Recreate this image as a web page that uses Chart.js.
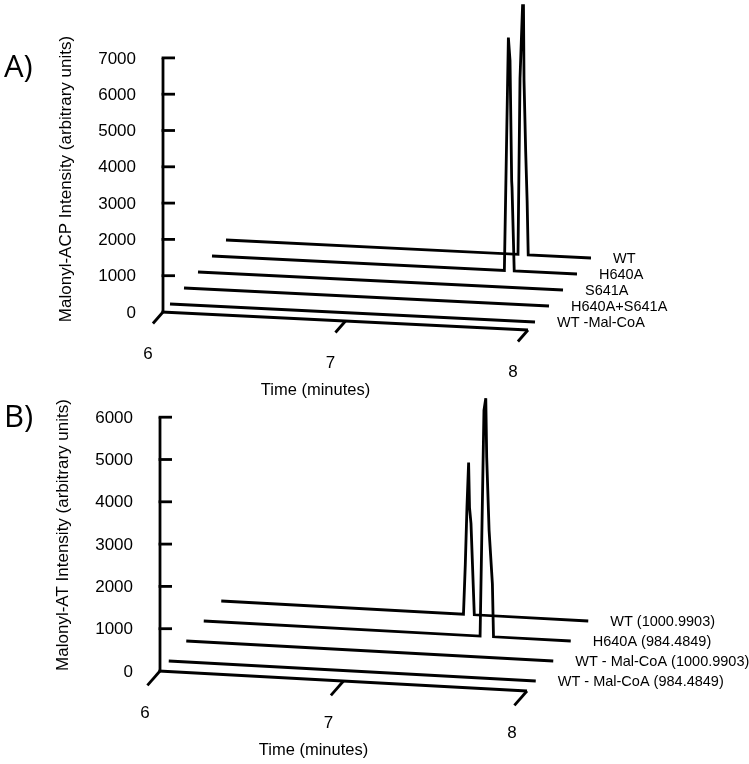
<!DOCTYPE html>
<html lang="en">
<head>
<meta charset="UTF-8">
<title>Malonyl-ACP / Malonyl-AT traces</title>
<script src="https://cdn.jsdelivr.net/npm/chart.js"></script>
<style>
  body { margin: 0; background: #fff; }
  .wrap { position: relative; width: 749px; height: 764px; overflow: hidden; }
  canvas { position: absolute; left: 0; }
  #chartA { top: 0; }
  #chartB { top: 380px; }
</style>
</head>
<body>
<div class="wrap">
  <canvas id="chartA" width="749" height="400"></canvas>
  <canvas id="chartB" width="749" height="384"></canvas>
</div>
<script>
// ---------- Panel A (traces listed front to back) ----------
const namesA = ['WT -Mal-CoA', 'H640A+S641A', 'S641A', 'H640A', 'WT'];
const yTicksA = [0, 1000, 2000, 3000, 4000, 5000, 6000, 7000];
const timeTicksA = [6, 7, 8];

const flatTime = [6, 8];
const flatIntensity = [0, 0];

const timeA_H640A = [6, 7.602, 7.624, 7.633, 7.642, 7.644, 7.656, 8];
const intA_H640A  = [0, 0, 6420, 5790, 2480, 2290, 0, 0];
const timeA_WT = [6, 7.600, 7.611, 7.625, 7.630, 7.633, 7.642, 7.650, 7.656, 8];
const intA_WT  = [0, 0, 4850, 6860, 6860, 4800, 2860, 1490, 0, 0];

// ---------- Panel B (traces listed front to back) ----------
const namesB = ['WT - Mal-CoA (984.4849)', 'WT - Mal-CoA (1000.9903)', 'H640A (984.4849)', 'WT (1000.9903)'];
const yTicksB = [0, 1000, 2000, 3000, 4000, 5000, 6000];
const timeTicksB = [6, 7, 8];

const timeB_H640A = [6, 7.506, 7.527, 7.537, 7.542, 7.555, 7.573, 7.579, 8];
const intB_H640A  = [0, 0, 5340, 5630, 4230, 2510, 1250, 0, 0];
const timeB_WT = [6, 7.320, 7.330, 7.339, 7.348, 7.353, 7.361, 7.369, 7.379, 8];
const intB_WT  = [0, 0, 1180, 2530, 3590, 2530, 2150, 1200, 0, 0];

const FONT = "'Liberation Sans', Arial, sans-serif";
const LINE_W = 2.8;

function makePanel(canvasId, cfg) {
    const canvas = document.getElementById(canvasId);
    const W = canvas.width, H = canvas.height;

    // oblique projection: depth pushes a trace right and up, time tilts the floor down
    const DX = cfg.depthDx / cfg.pxPerMin;          // minutes per depth step
    const DY = cfg.depthDy / cfg.pxPerUnit;         // intensity units per depth step
    const SL = cfg.slopePx / cfg.pxPerUnit;         // intensity units per minute
    const t0 = cfg.timeTicks[0];
    function project(t, v, d) {
        return { x: t + d * DX, y: v - (t - t0) * SL + d * DY };
    }

    const xMin = t0 - cfg.corner[0] / cfg.pxPerMin;
    const yMax = cfg.corner[1] / cfg.pxPerUnit;

    const datasets = cfg.traces.map((tr, i) => ({
        label: tr.name,
        data: tr.time.map((t, k) => project(t, tr.values[k], i + 0.5)),
        showLine: true,
        borderColor: '#000',
        borderWidth: LINE_W,
        pointRadius: 0,
        tension: 0,
        clip: false
    }));

    const decor = {
        id: 'decor',
        afterDatasetsDraw(chart) {
            const ctx = chart.ctx;
            const xs = chart.scales.x, ys = chart.scales.y;
            const P = (t, v, d) => {
                const p = project(t, v, d);
                return [xs.getPixelForValue(p.x), ys.getPixelForValue(p.y)];
            };
            const tEnd = cfg.timeTicks[cfg.timeTicks.length - 1];
            const yTop = cfg.yTicks[cfg.yTicks.length - 1];

            ctx.save();
            ctx.strokeStyle = '#000';
            ctx.fillStyle = '#000';
            ctx.lineWidth = LINE_W;
            ctx.lineCap = 'butt';

            // vertical axis + inward ticks
            const a0 = P(t0, 0, 0), a1 = P(t0, yTop, 0);
            ctx.beginPath();
            ctx.moveTo(a0[0], a0[1]);
            ctx.lineTo(a1[0], a1[1]);
            ctx.stroke();
            ctx.font = '17px ' + FONT;
            ctx.textAlign = 'right';
            ctx.textBaseline = 'middle';
            cfg.yTicks.forEach(v => {
                const p = P(t0, v, 0);
                if (v > 0) {
                    ctx.beginPath();
                    ctx.moveTo(p[0] - 1.4, p[1]);
                    ctx.lineTo(p[0] + 12, p[1]);
                    ctx.stroke();
                }
                ctx.fillText(String(v), p[0] - 27, p[1] + 1);
            });

            // floor (time axis) + depth-direction ticks
            const f0 = P(t0, 0, 0), f1 = P(tEnd, 0, 0);
            ctx.beginPath();
            ctx.moveTo(f0[0] - 1.4, f0[1]);
            ctx.lineTo(f1[0], f1[1]);
            ctx.stroke();
            ctx.textAlign = 'center';
            cfg.timeTicks.forEach(t => {
                const p = P(t, 0, 0), q = P(t, 0, -0.72);
                ctx.beginPath();
                ctx.moveTo(p[0], p[1]);
                ctx.lineTo(q[0], q[1]);
                ctx.stroke();
                ctx.fillText(String(t), p[0] - 15, p[1] + 42);
            });

            // time title
            const mid = P((t0 + tEnd) / 2, 0, 0);
            ctx.font = '16.5px ' + FONT;
            ctx.fillText('Time (minutes)', mid[0] - 30, mid[1] + 69);

            // vertical title
            ctx.save();
            ctx.translate(cfg.yTitlePos[0], cfg.yTitlePos[1]);
            ctx.rotate(-Math.PI / 2);
            ctx.font = '17px ' + FONT;
            ctx.fillText(cfg.yTitle, 0, 0);
            ctx.restore();

            // trace names at the right-hand end of each trace
            ctx.font = '14.5px ' + FONT;
            ctx.textAlign = 'left';
            cfg.traces.forEach((tr, i) => {
                const p = P(tEnd, 0, i + 0.5);
                ctx.fillText(tr.name, p[0] + 22, p[1] + 1);
            });

            // panel letter
            ctx.font = "31px 'Open Sans', sans-serif";
            ctx.textBaseline = 'alphabetic';
            ctx.fillText(cfg.letter, 4, cfg.letterBaseline);
            ctx.restore();
        }
    };

    return new Chart(canvas, {
        type: 'scatter',
        data: { datasets: datasets },
        options: {
            responsive: false,
            animation: false,
            layout: { padding: 0 },
            plugins: { legend: { display: false }, tooltip: { enabled: false } },
            scales: {
                x: { type: 'linear', display: false, min: xMin, max: xMin + W / cfg.pxPerMin },
                y: { type: 'linear', display: false, max: yMax, min: yMax - H / cfg.pxPerUnit }
            }
        },
        plugins: [decor]
    });
}

makePanel('chartA', {
    letter: 'A)',
    letterBaseline: 77,
    yTitle: 'Malonyl-ACP Intensity (arbitrary units)',
    yTitlePos: [66, 179],
    yTicks: yTicksA,
    timeTicks: timeTicksA,
    corner: [163, 312],
    pxPerMin: 182.5,
    pxPerUnit: 0.0363,
    slopePx: 9,
    depthDx: 14,
    depthDy: 16,
    traces: [
        { name: namesA[0], time: flatTime, values: flatIntensity },
        { name: namesA[1], time: flatTime, values: flatIntensity },
        { name: namesA[2], time: flatTime, values: flatIntensity },
        { name: namesA[3], time: timeA_H640A, values: intA_H640A },
        { name: namesA[4], time: timeA_WT, values: intA_WT }
    ]
});

makePanel('chartB', {
    letter: 'B)',
    letterBaseline: 47,
    yTitle: 'Malonyl-AT Intensity (arbitrary units)',
    yTitlePos: [63, 155],
    yTicks: yTicksB,
    timeTicks: timeTicksB,
    corner: [160, 291],
    pxPerMin: 183.5,
    pxPerUnit: 0.0423,
    slopePx: 10,
    depthDx: 17.5,
    depthDy: 20,
    traces: [
        { name: namesB[0], time: flatTime, values: flatIntensity },
        { name: namesB[1], time: flatTime, values: flatIntensity },
        { name: namesB[2], time: timeB_H640A, values: intB_H640A },
        { name: namesB[3], time: timeB_WT, values: intB_WT }
    ]
});
</script>
</body>
</html>
